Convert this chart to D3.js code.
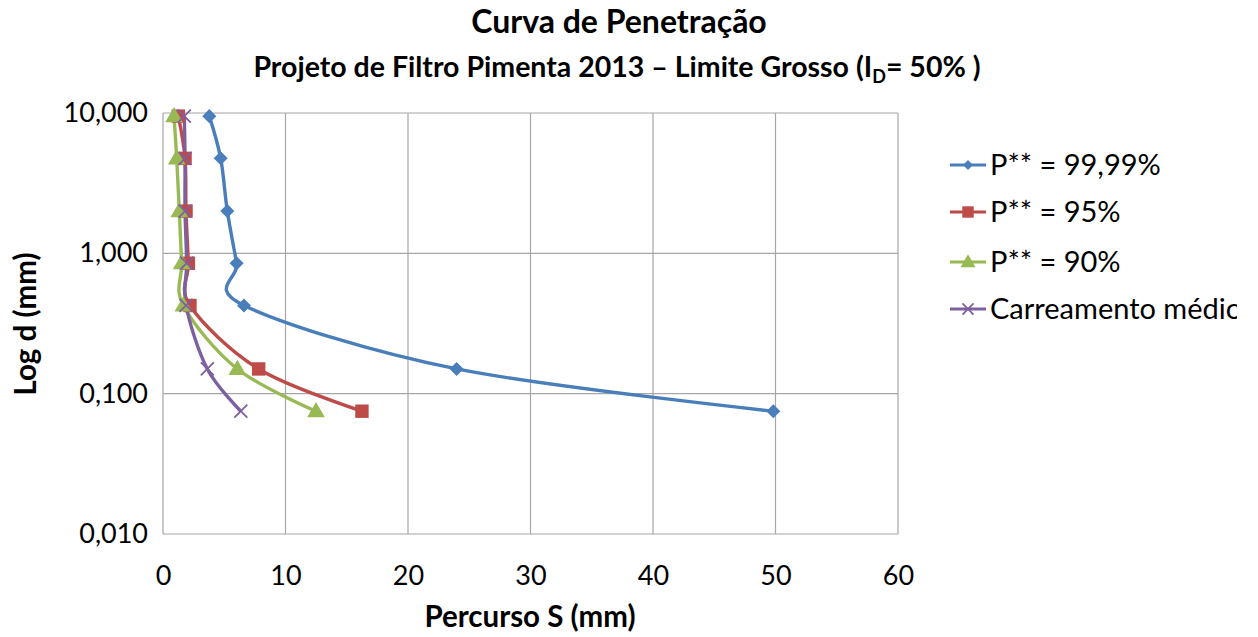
<!DOCTYPE html>
<html>
<head>
<meta charset="utf-8">
<script src="https://cdn.jsdelivr.net/npm/d3@7"></script>
<style>
  html, body { margin: 0; padding: 0; background: #fff; }
  svg { display: block; }
  text { font-family: Lato, "Open Sans", sans-serif; fill: #000; }
</style>
</head>
<body>
<svg id="chart" width="1258" height="637"></svg>
<script>
// Sieve openings d (mm) shared by every series
const diameters = [9.5, 4.75, 2.0, 0.85, 0.425, 0.15, 0.075];

// Travel S (mm) for each series
const p9999 = [3.78, 4.71, 5.25, 6.01, 6.61, 23.97, 49.82];
const p95   = [1.25, 1.80, 1.88, 2.07, 2.20, 7.81, 16.24];
const p90   = [0.90, 1.12, 1.33, 1.52, 1.66, 6.07, 12.49];
const carreamento = [1.74, 1.80, 1.80, 1.93, 1.88, 3.62, 6.35];

const seriesNames = ["P** = 99,99%", "P** = 95%", "P** = 90%", "Carreamento médio"];
const seriesColors = ["#4a7ebb", "#be4b48", "#98b954", "#7d60a0"];
const seriesMarkers = ["diamond", "square", "triangle", "cross"];

const xTicks = [0, 10, 20, 30, 40, 50, 60];
const yTicks = [10, 1, 0.1, 0.01];
const yTickLabels = ["10,000", "1,000", "0,100", "0,010"];

const seriesValues = [p9999, p95, p90, carreamento];

const svg = d3.select("#chart");
const margin = { left: 163, right: 898, top: 113, bottom: 534 };

const x = d3.scaleLinear().domain([0, 60]).range([margin.left, margin.right]);
const y = d3.scaleLog().domain([0.01, 10]).range([margin.bottom, margin.top]);

// clip region for the whole chart frame
svg.append("defs").append("clipPath").attr("id", "frame")
  .append("rect").attr("x", 0).attr("y", 0).attr("width", 1237).attr("height", 637);
const root = svg.append("g").attr("clip-path", "url(#frame)");

// Titles
root.append("text").attr("x", 619).attr("y", 33).attr("text-anchor", "middle")
  .style("font-size", "32px").style("font-weight", "bold").text("Curva de Penetração");
const sub = root.append("text").attr("x", 617).attr("y", 77).attr("text-anchor", "middle")
  .style("font-size", "28.5px").style("font-weight", "bold");
sub.append("tspan").text("Projeto de Filtro Pimenta 2013 – Limite Grosso (I");
sub.append("tspan").attr("dy", 6).style("font-size", "18px").text("D");
sub.append("tspan").attr("dy", -6).text("= 50% )");

// Grid
const grid = root.append("g");
grid.selectAll("line.v").data(xTicks).join("line")
  .attr("x1", d => x(d)).attr("x2", d => x(d))
  .attr("y1", margin.top).attr("y2", margin.bottom)
  .attr("stroke", "#a6a6a6").attr("stroke-width", 1.2);
grid.selectAll("line.h").data(yTicks).join("line")
  .attr("x1", margin.left).attr("x2", margin.right)
  .attr("y1", d => y(d)).attr("y2", d => y(d))
  .attr("stroke", "#a6a6a6").attr("stroke-width", 1.2);

// Axes (labels only; lines come from the grid)
const xAxis = root.append("g").attr("transform", `translate(0,${margin.bottom + 32})`)
  .call(d3.axisBottom(x).tickValues(xTicks).tickSize(0).tickPadding(0).tickFormat(d3.format("d")));
xAxis.select(".domain").remove();
xAxis.selectAll("text").style("font-size", "27px").attr("dy", "0.71em").attr("fill", "#000");

const yAxis = root.append("g").attr("transform", `translate(${margin.left - 15},0)`)
  .call(d3.axisLeft(y).tickValues(yTicks).tickSize(0).tickPadding(0).tickFormat((d, i) => yTickLabels[i]));
yAxis.select(".domain").remove();
yAxis.selectAll("text").style("font-size", "27px").attr("fill", "#000");

root.append("text").attr("x", 530).attr("y", 627).attr("text-anchor", "middle")
  .style("font-size", "29.5px").style("font-weight", "bold").text("Percurso S (mm)");
root.append("text").attr("transform", "translate(36,324) rotate(-90)").attr("text-anchor", "middle")
  .style("font-size", "29.5px").style("font-weight", "bold").text("Log d (mm)");

// Marker drawing
function drawMarker(g, type, color, scale) {
  const s = scale || 1;
  if (type === "diamond") {
    g.append("path").attr("d", d3.symbol(d3.symbolDiamond2, 125 * s * s)()).attr("fill", color);
  } else if (type === "square") {
    g.append("path").attr("d", d3.symbol(d3.symbolSquare, 180 * s * s)()).attr("fill", color);
  } else if (type === "triangle") {
    g.append("path").attr("d", d3.symbol(d3.symbolTriangle, 135 * s * s)())
      .attr("fill", color).attr("transform", "translate(0,1)");
  } else {
    const r = 6.5 * s;
    g.append("path").attr("d", `M${-r},${-r}L${r},${r}M${-r},${r}L${r},${-r}`)
      .attr("stroke", color).attr("stroke-width", 1.8).attr("fill", "none");
  }
}

const line = d3.line().x(d => x(d[0])).y(d => y(d[1])).curve(d3.curveCatmullRom.alpha(0));

const plot = root.append("g");
seriesValues.forEach((vals, i) => {
  const pts = vals.map((v, k) => [v, diameters[k]]);
  plot.append("path").datum(pts).attr("d", line)
    .attr("fill", "none").attr("stroke", seriesColors[i]).attr("stroke-width", 3.4)
    .attr("stroke-linejoin", "round");
});
seriesValues.forEach((vals, i) => {
  vals.forEach((v, k) => {
    const g = plot.append("g").attr("transform", `translate(${x(v)},${y(diameters[k])})`);
    drawMarker(g, seriesMarkers[i], seriesColors[i], 1);
  });
});

// Legend
const legendY = [165, 212, 262, 309];
const legend = root.append("g");
seriesNames.forEach((name, i) => {
  const g = legend.append("g").attr("transform", `translate(950,${legendY[i]})`);
  g.append("line").attr("x1", 0).attr("x2", 36).attr("y1", 0).attr("y2", 0)
    .attr("stroke", seriesColors[i]).attr("stroke-width", 3);
  const m = g.append("g").attr("transform", "translate(18,0)");
  drawMarker(m, seriesMarkers[i], seriesColors[i], i === 0 ? 0.7 : 0.85);
  g.append("text").attr("x", 40).attr("y", 0).attr("dy", "0.36em")
    .style("font-size", "29px").text(name);
});
</script>
</body>
</html>
